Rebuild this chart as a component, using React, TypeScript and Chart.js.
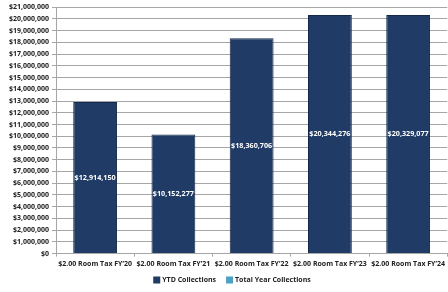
import React, { useEffect, useRef } from "react";
import { Chart, registerables } from "chart.js";

Chart.register(...registerables);

const categories = [
  "$2.00 Room Tax FY\u201920",
  "$2.00 Room Tax FY\u201921",
  "$2.00 Room Tax FY\u201922",
  "$2.00 Room Tax FY\u201923",
  "$2.00 Room Tax FY\u201924",
];
const ytdCollections = [12914150, 10152277, 18360706, 20344276, 20329077];
const totalYearCollections: (number | null)[] = [null, null, null, null, null];
const seriesNames = ["YTD Collections", "Total Year Collections"];
const seriesColors = ["#1f3b66", "#4d9fc4"];

const fmt = (v: number) => "$" + Math.round(v).toLocaleString("en-US");

const FONT = "'Open Sans', Lato, sans-serif";

const barLabels = {
  id: "barLabels",
  afterDatasetsDraw(chart: any) {
    const ctx = chart.ctx;
    const meta = chart.getDatasetMeta(0);
    ctx.save();
    ctx.fillStyle = "#ffffff";
    ctx.font = `bold 7.2px ${FONT}`;
    ctx.textAlign = "center";
    ctx.textBaseline = "middle";
    meta.data.forEach((bar: any, i: number) => {
      const v = ytdCollections[i];
      const y = (bar.y + bar.base) / 2;
      ctx.fillText(fmt(v), bar.x, y);
    });
    ctx.restore();
  },
};

const customLegend = {
  id: "customLegend",
  afterDraw(chart: any) {
    const ctx = chart.ctx;
    ctx.save();
    ctx.font = `bold 7px ${FONT}`;
    ctx.textBaseline = "middle";
    ctx.textAlign = "left";
    const box = 7;
    const gap = 2;
    const itemGap = 10;
    const widths = seriesNames.map((n) => box + gap + ctx.measureText(n).width);
    const total = widths.reduce((a, b) => a + b, 0) + itemGap * (widths.length - 1);
    let x = 232 - total / 2;
    const y = 280;
    seriesNames.forEach((n, i) => {
      ctx.fillStyle = seriesColors[i];
      ctx.fillRect(x, y - box / 2, box, box);
      ctx.fillStyle = "#222";
      ctx.fillText(n, x + box + gap, y);
      x += widths[i] + itemGap;
    });
    ctx.restore();
  },
};

export default function App() {
  const ref = useRef<HTMLCanvasElement>(null);
  useEffect(() => {
    if (!ref.current) return;
    const chart = new Chart(ref.current, {
      type: "bar",
      data: {
        labels: categories,
        datasets: [
          {
            label: seriesNames[0],
            data: ytdCollections,
            backgroundColor: seriesColors[0],
            borderColor: "#13284a",
            borderWidth: 1,
            grouped: false,
            barPercentage: 0.56,
            categoryPercentage: 1,
          },
          {
            label: seriesNames[1],
            data: totalYearCollections,
            backgroundColor: seriesColors[1],
            borderColor: "#3a86ab",
            borderWidth: 1,
            grouped: false,
            barPercentage: 0.56,
            categoryPercentage: 1,
          },
        ],
      },
      options: {
        animation: false,
        responsive: false,
        maintainAspectRatio: false,
        layout: { padding: { top: 4, right: 0, left: 6, bottom: 21 } },
        plugins: {
          tooltip: { enabled: false },
          legend: { display: false },
        },
        scales: {
          x: {
            offset: true,
            grid: {
              offset: true,
              drawOnChartArea: false,
              drawTicks: true,
              tickLength: 3,
              color: "#a6a6a6",
            },
            border: { color: "#a6a6a6" },
            ticks: {
              color: "#222",
              font: { family: FONT, size: 7, weight: "bold" },
              maxRotation: 0,
              autoSkip: false,
              padding: 3,
            },
          },
          y: {
            min: 0,
            max: 21000000,
            grid: {
              color: "#a6a6a6",
              tickLength: 4,
            },
            border: { color: "#a6a6a6" },
            ticks: {
              stepSize: 1000000,
              autoSkip: false,
              color: "#222",
              font: { family: FONT, size: 7, weight: "bold" },
              padding: 3,
              callback: (v: any) => fmt(Number(v)),
            },
          },
        },
      },
      plugins: [barLabels, customLegend],
    });
    return () => chart.destroy();
  }, []);
  return (
    <div style={{ position: "fixed", left: 0, top: 0, width: 448, height: 292, background: "#fff" }}>
      <canvas ref={ref} width={448} height={292} />
    </div>
  );
}
